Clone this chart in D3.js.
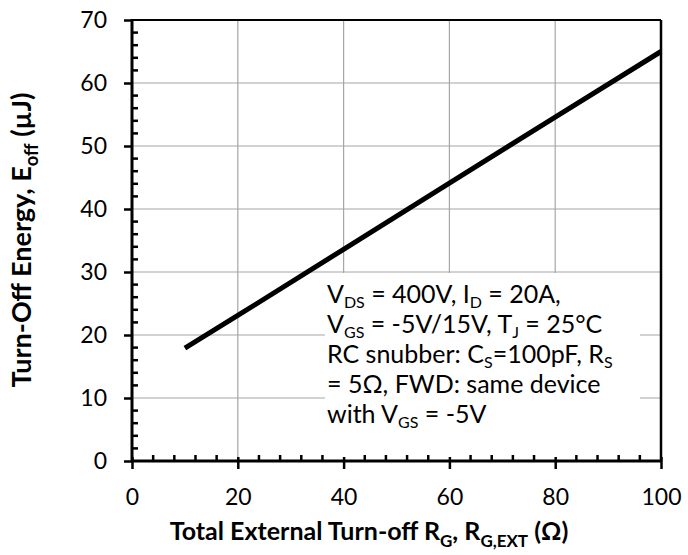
<!DOCTYPE html>
<html><head><meta charset="utf-8">
<script src="https://cdn.jsdelivr.net/npm/d3@7"></script>
<style>body{margin:0;background:#fff}svg{display:block;font-family:Lato,sans-serif}</style>
</head><body><svg id="c" width="688" height="555"></svg>
<script>
const rg = [10, 20, 40, 60, 80, 100];
const eoff = [17.9, 23.1, 33.6, 44.1, 54.6, 65.0];
const xTicks = [0, 20, 40, 60, 80, 100];
const yTicks = [0, 10, 20, 30, 40, 50, 60, 70];

const svg = d3.select("#c");
const L = 132, R = 661, T = 20, B = 461;
const x = d3.scaleLinear().domain([0, 100]).range([L, R]);
const y = d3.scaleLinear().domain([0, 70]).range([B, T]);

// grid
const g = svg.append("g");
g.selectAll(".gx").data(xTicks.slice(1, -1)).join("line")
  .attr("x1", d => x(d)).attr("x2", d => x(d)).attr("y1", T).attr("y2", B)
  .attr("stroke", "#a6a6a6").attr("stroke-width", 1.2);
g.selectAll(".gy").data(yTicks.slice(1, -1)).join("line")
  .attr("y1", d => y(d)).attr("y2", d => y(d)).attr("x1", L).attr("x2", R)
  .attr("stroke", "#a6a6a6").attr("stroke-width", 1.2);

// annotation box (white, covers grid)
svg.append("rect").attr("x", 325).attr("y", 273).attr("width", 315).attr("height", B - 273 - 2).attr("fill", "#fff");

// frame top/right
svg.append("line").attr("x1", L).attr("x2", R).attr("y1", T).attr("y2", T).attr("stroke", "#000").attr("stroke-width", 2);
svg.append("line").attr("x1", R).attr("x2", R).attr("y1", T).attr("y2", B).attr("stroke", "#000").attr("stroke-width", 2.5);

// axes
const xAxis = d3.axisBottom(x).tickValues(xTicks).tickSize(8).tickPadding(20);
const xa = svg.append("g").attr("transform", `translate(0,${B})`).call(xAxis);
xa.select(".domain").remove();
xa.selectAll(".tick line").attr("stroke-width", 2.5).attr("y1", -4);
xa.selectAll("text").attr("font-size", 23).attr("font-family", "Lato").attr("fill", "#000");
// x minor ticks
svg.selectAll(".mx").data(d3.range(0, 101, 4).filter(v => v % 20 !== 0)).join("line")
  .attr("x1", d => x(d)).attr("x2", d => x(d)).attr("y1", B).attr("y2", B - 6)
  .attr("stroke", "#000").attr("stroke-width", 2.5);

const yAxis = d3.axisLeft(y).tickValues(yTicks).tickSize(8).tickPadding(17);
const ya = svg.append("g").attr("transform", `translate(${L},0)`).call(yAxis);
ya.select(".domain").remove();
ya.selectAll(".tick line").attr("stroke-width", 2.5);
ya.selectAll("text").attr("font-size", 23).attr("font-family", "Lato").attr("fill", "#000");
svg.selectAll(".my").data(d3.range(0, 70, 2).filter(v => v % 10 !== 0)).join("line")
  .attr("y1", d => y(d)).attr("y2", d => y(d)).attr("x1", L).attr("x2", L + 6)
  .attr("stroke", "#000").attr("stroke-width", 2.5);

svg.append("line").attr("x1", L).attr("x2", R).attr("y1", B).attr("y2", B).attr("stroke", "#000").attr("stroke-width", 3);
svg.append("line").attr("x1", L).attr("x2", L).attr("y1", T - 1).attr("y2", B + 1).attr("stroke", "#000").attr("stroke-width", 3);

// data line
svg.append("path").datum(rg.map((v, i) => [v, eoff[i]]))
  .attr("d", d3.line().x(d => x(d[0])).y(d => y(d[1])))
  .attr("fill", "none").attr("stroke", "#000").attr("stroke-width", 5);

// annotation text
const lines = [
  [["V", 0], ["DS", 1], [" = 400V, I", 0], ["D", 1], [" = 20A,", 0]],
  [["V", 0], ["GS", 1], [" = -5V/15V, T", 0], ["J", 1], [" = 25°C", 0]],
  [["RC snubber: C", 0], ["S", 1], ["=100pF, R", 0], ["S", 1]],
  [["= 5Ω, FWD: same device", 0]],
  [["with V", 0], ["GS", 1], [" = -5V", 0]]
];
function rich(sel, parts, fs, sub, ratio) {
  let prev = 0;
  parts.forEach(([t, s]) => {
    const off = s ? sub : 0;
    sel.append("tspan").attr("dy", off - prev).attr("font-size", s ? fs * ratio : fs).text(t);
    prev = off;
  });
}
lines.forEach((ln, i) => {
  const t = svg.append("text").attr("x", 327).attr("y", 303 + i * 30).attr("font-size", 25).attr("fill", "#000");
  rich(t, ln, 25, 5, 0.64);
});

// axis titles
const xt = svg.append("text").attr("x", 369).attr("y", 540).attr("text-anchor", "middle")
  .attr("font-weight", "bold").attr("font-size", 25).attr("fill", "#000");
rich(xt, [["Total External Turn-off R", 0], ["G", 1], [", R", 0], ["G,EXT", 1], [" (Ω)", 0]], 25, 7, 0.68);

const yt = svg.append("text").attr("transform", "translate(31,240) rotate(-90)").attr("text-anchor", "middle")
  .attr("font-weight", "bold").attr("font-size", 27).attr("fill", "#000");
rich(yt, [["Turn-Off Energy, E", 0], ["off", 1], [" (µJ)", 0]], 27, 7, 0.68);
</script></body></html>
